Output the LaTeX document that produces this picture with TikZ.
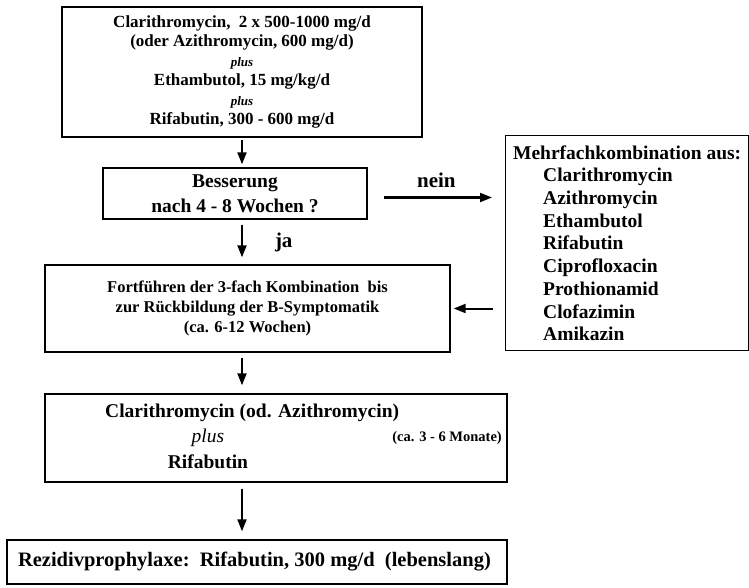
\documentclass[tikz,border=0pt]{standalone}
\usepackage{fontspec}
\setmainfont{Liberation Serif}
\usetikzlibrary{positioning,arrows.meta}

\begin{document}
\begin{tikzpicture}[
    x=1pt, y=-1pt,
    box/.style={
        draw,
        rectangle,
        line width=1.4pt,
        inner sep=0pt,
        align=center
    },
    arrow/.style={-{Triangle[length=12pt,width=9pt]}, line width=2pt},
    lbl/.style={inner sep=0pt, font=\bfseries\fontsize{21}{24}\selectfont},
    txt/.style={inner sep=0pt, font=\bfseries\fontsize{19.5}{24.5}\selectfont}
]
\useasboundingbox (0,0) rectangle (749,588);

\node[box, minimum width=360pt, minimum height=130pt,
      font=\bfseries\fontsize{17}{19.5}\selectfont] (start) at (242,72) {
Clarithromycin,\ \ 2 x 500-1000 mg/d \\
(oder Azithromycin, 600 mg/d) \\
{\fontsize{13}{19.5}\selectfont\itshape plus} \\
Ethambutol, 15 mg/kg/d \\
{\fontsize{13}{19.5}\selectfont\itshape plus} \\
Rifabutin, 300 - 600 mg/d
};

\node[box, minimum width=264pt, minimum height=51pt,
      font=\bfseries\fontsize{19.5}{25}\selectfont] (check) at (235,193.5) {
Besserung \\
nach 4 - 8 Wochen ?
};

\node[box, anchor=north west, minimum width=243pt, minimum height=215pt, align=left,
      font=\bfseries\fontsize{19.5}{22.7}\selectfont] (combo) at (505,135) {
Mehrfachkombination aus: \\
\hspace*{30pt}Clarithromycin \\
\hspace*{30pt}Azithromycin \\
\hspace*{30pt}Ethambutol \\
\hspace*{30pt}Rifabutin \\
\hspace*{30pt}Ciprofloxacin \\
\hspace*{30pt}Prothionamid \\
\hspace*{30pt}Clofazimin \\
\hspace*{30pt}Amikazin
};

\node[box, minimum width=405pt, minimum height=87pt,
      font=\bfseries\fontsize{16.5}{20}\selectfont] (cont) at (247.5,308.5) {
Fortführen der 3-fach Kombination\ \ bis \\
zur Rückbildung der B-Symptomatik \\
(ca. 6-12 Wochen)
};

\node[box, minimum width=462pt, minimum height=88pt] (maint) at (276,438) {};
\node[txt, anchor=west] (maint1) at (105,413) {Clarithromycin (od. Azithromycin)};
\node[txt, font=\mdseries\itshape\fontsize{19.5}{24.5}\selectfont] (maint2) at (208,438) {plus};
\node[txt] (maint3) at (208,462) {Rifabutin};
\node[txt, anchor=east, font=\bfseries\fontsize{14.5}{17}\selectfont] (maint4) at (502,438) {(ca. 3 - 6 Monate)};

\node[box, minimum width=500pt, minimum height=44pt,
      font=\bfseries\fontsize{20.5}{24}\selectfont] (proph) at (257,562) {
Rezidivprophylaxe:\ \ Rifabutin, 300 mg/d\ \ (lebenslang)
};

\draw[arrow, shorten <=2pt, shorten >=3pt] (start.south) -- (start.south |- check.north);
\draw[arrow, shorten <=16pt, shorten >=13pt] ([yshift=-4pt]check.east) -- ([yshift=-4pt]check.east -| combo.west)
    node[lbl, midway, above=9pt] (nein) {nein};
\draw[arrow, shorten <=5pt, shorten >=7pt] (check.south -| start.south) -- (cont.north -| start.south)
    node[lbl, midway, right=32pt] (ja) {ja};
\draw[arrow, shorten <=12pt, shorten >=3pt] (combo.west |- cont.east) -- (cont.east);
\draw[arrow, shorten <=5pt, shorten >=8pt] (cont.south -| start.south) -- (maint.north -| start.south);
\draw[arrow, shorten <=6pt, shorten >=8pt] (maint.south -| start.south) -- (proph.north -| start.south);

\end{tikzpicture}
\end{document}
